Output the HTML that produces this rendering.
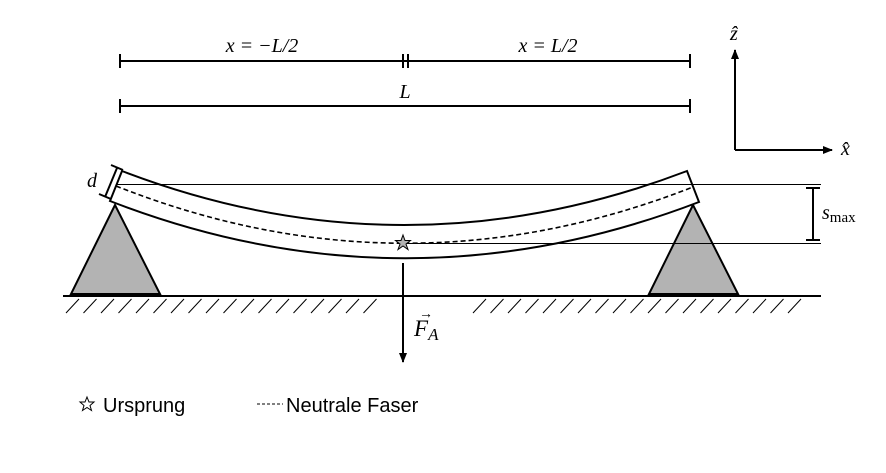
<!DOCTYPE html>
<html><head><meta charset="utf-8"><style>
html,body{margin:0;padding:0;background:#fff;}
svg{display:block;}
.m{font-family:"Liberation Serif",serif;font-style:italic;font-size:20px;}
.r{font-family:"Liberation Serif",serif;font-size:15px;}
.s{font-family:"Liberation Sans",sans-serif;font-size:20px;}
</style></head><body>
<svg width="886" height="473" viewBox="0 0 886 473">
<defs>
<marker id="ah" markerWidth="10" markerHeight="10" refX="9" refY="5" orient="auto" markerUnits="userSpaceOnUse">
<path d="M0,1 L10,5 L0,9 Z" fill="#000"/></marker>
</defs>
<g stroke="#000" stroke-width="2">
<line x1="120" y1="61" x2="690" y2="61"/>
<line x1="120" y1="54" x2="120" y2="68"/><line x1="403" y1="54" x2="403" y2="68"/>
<line x1="408" y1="54" x2="408" y2="68"/><line x1="690" y1="54" x2="690" y2="68"/>
</g>
<g stroke="#000" stroke-width="2">
<line x1="120" y1="106" x2="690" y2="106"/>
<line x1="120" y1="99" x2="120" y2="113"/><line x1="690" y1="99" x2="690" y2="113"/>
</g>
<text class="m" x="262" y="52" text-anchor="middle">x = −L/2</text>
<text class="m" x="548" y="52" text-anchor="middle">x = L/2</text>
<text class="m" x="405" y="98" text-anchor="middle">L</text>
<g stroke="#000" stroke-width="2" fill="none">
<line x1="735" y1="150" x2="735" y2="50" marker-end="url(#ah)"/>
<line x1="735" y1="150" x2="832" y2="150" marker-end="url(#ah)"/>
</g>
<text class="m" x="730" y="40">ẑ</text>
<text class="m" x="841" y="155">x̂</text>
<g stroke="#000" stroke-width="2">
<line x1="813" y1="188" x2="813" y2="240"/><line x1="806" y1="188" x2="820" y2="188"/><line x1="806" y1="240" x2="820" y2="240"/>
</g>
<text class="m" x="822" y="219">s<tspan class="r" dy="3" style="font-style:normal">max</tspan></text>
<polygon points="115,205 71,294 160,294" fill="#b3b3b3" stroke="#000" stroke-width="2"/>
<polygon points="693,205 649,294 738,294" fill="#b3b3b3" stroke="#000" stroke-width="2"/>
<path d="M122,171 Q404,279 687,171 L699,202 Q404,315 110,201 Z" fill="#fff" stroke="#000" stroke-width="2"/>
<path d="M116,186 Q404,300 693,187" fill="none" stroke="#000" stroke-width="1.6" stroke-dasharray="5,3"/>
<line x1="117" y1="184.5" x2="821" y2="184.5" stroke="#000" stroke-width="1"/>
<line x1="408" y1="243.5" x2="821" y2="243.5" stroke="#000" stroke-width="1"/>
<g stroke="#000" stroke-width="2">
<line x1="117" y1="168" x2="105" y2="197"/>
<line x1="111" y1="165" x2="123" y2="170"/><line x1="99" y1="194" x2="111" y2="199"/>
</g>
<text class="m" x="87" y="187">d</text>
<line x1="63" y1="296" x2="821" y2="296" stroke="#000" stroke-width="2"/>
<g stroke="#000" stroke-width="1" id="hatch"></g>
<line x1="403" y1="263" x2="403" y2="362" stroke="#000" stroke-width="2" marker-end="url(#ah)"/>
<text class="m" x="414" y="336" style="font-size:23px">F<tspan class="r" dy="4" style="font-size:17px">A</tspan></text>
<text class="m" x="419" y="318" style="font-size:14px">→</text>
<polygon points="403,235 405,240.5 410.5,240.5 406,244 408,249.5 403,246 398,249.5 400,244 395.5,240.5 401,240.5" fill="#b3b3b3" stroke="#000" stroke-width="1"/>
<polygon points="87,397 89,402 94,402 90,405.5 91.5,410.5 87,407.5 82.5,410.5 84,405.5 80,402 85,402" fill="#fff" stroke="#000" stroke-width="1"/>
<text class="s" x="103" y="412">Ursprung</text>
<line x1="257" y1="404" x2="283" y2="404" stroke="#000" stroke-width="1" stroke-dasharray="3,2"/>
<text class="s" x="286" y="412">Neutrale Faser</text>
</svg>
<script>
var g=document.getElementById('hatch');
function h(x0,x1){for(var x=x0;x<=x1;x+=17.5){var l=document.createElementNS('http://www.w3.org/2000/svg','line');
l.setAttribute('x1',x+13);l.setAttribute('y1',299);l.setAttribute('x2',x);l.setAttribute('y2',313);


g.appendChild(l);}}
h(66,370);h(473,790);
</script>
</body></html>
